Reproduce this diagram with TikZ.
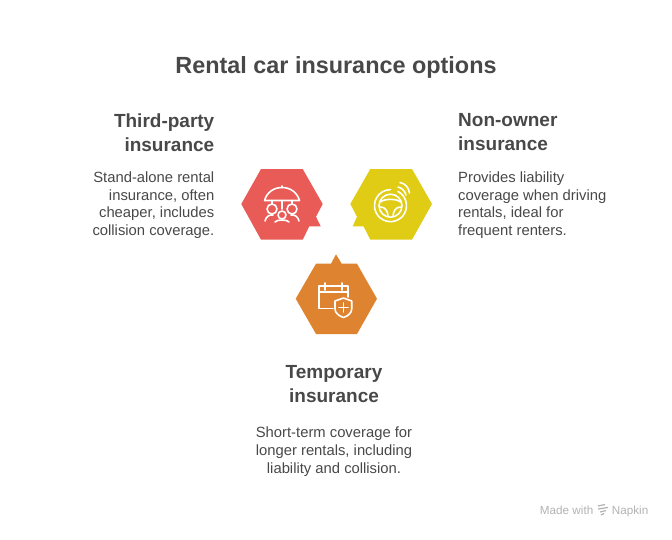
\documentclass[tikz,border=0pt]{standalone}
\usepackage{fontspec}
\setmainfont{Liberation Sans}
\definecolor{inkgray}{HTML}{484848}
\definecolor{hexred}{HTML}{E85B56}
\definecolor{hexyellow}{HTML}{E0CC14}
\definecolor{hexorange}{HTML}{DE8431}
\tikzset{
  headtext/.style={inkgray, inner sep=0, font=\fontsize{19}{24}\selectfont\bfseries},
  bodytext/.style={inkgray, inner sep=0, font=\fontsize{14.8}{17.7}\selectfont},
  footertext/.style={gray!60, inner sep=0, font=\fontsize{11.7}{14}\selectfont},
  iconline/.style={draw=white, line width=1.6, line cap=round, line join=round},
}
\begin{document}
\begin{tikzpicture}[x=1pt, y=-1pt]
\useasboundingbox (0,0) rectangle (672,539);

% hexagons
\fill [hexred] (241.3,204) -- (261,169) -- (302.7,169) -- (322.7,204) -- (316,216.7) -- (320.7,226.3) -- (309.3,226.3) -- (302.7,239.7) -- (261,239.7) -- cycle;
\fill [hexyellow] (350.3,204) -- (370.3,169) -- (412,169) -- (432,204) -- (412,239.7) -- (370.3,239.7) -- (363.5,226.3) -- (352.7,226.3) -- (357,216.7) -- cycle;
\fill [hexorange] (295.7,298.7) -- (316,263.7) -- (331,263.7) -- (336,254.3) -- (341.7,263.7) -- (357,263.7) -- (377,298.7) -- (357,334) -- (316,334) -- cycle;

% umbrella icon
\draw [iconline] (264.5,200.5) .. controls (267,192) and (274,187.5) .. (282,187.5) .. controls (290,187.5) and (297,192) .. (299.5,200.5) -- cycle;
\draw [iconline] (282,186) -- (282,187.5) (282,200.5) -- (282,209) (272,200.5) -- (272,204) (292,200.5) -- (292,204);
\draw [iconline] (272,209) circle (5) (292,209) circle (5) (282,215) circle (4);
\draw [iconline] (265,221) .. controls (266,216) and (270,214.5) .. (273,215) (299,221) .. controls (298,216) and (294,214.5) .. (291,215) (275,222) .. controls (276,220.5) and (279,220) .. (282,220) .. controls (285,220) and (288,220.5) .. (289,222);

% steering wheel icon
\draw [iconline] (398,191.5) arc (-62:270:16);
\draw [iconline] (390.5,205.7) circle (11.5);
\draw [iconline] (380.5,202) .. controls (384,198.5) and (397,198.5) .. (400.5,202);
\draw [iconline] (380.5,207) .. controls (385,207) and (388,211) .. (388,216.5) (400.5,207) .. controls (396,207) and (393,211) .. (393,216.5);
\draw [iconline] (398,187) .. controls (402,188) and (405,191) .. (406,195) (400,182.5) .. controls (405,183.5) and (408.5,187) .. (409.5,193);

% calendar icon
\draw [iconline] (333,308.5) -- (319,308.5) -- (319,286) -- (347.7,286) -- (347.7,297);
\draw [iconline] (319,292) -- (347.7,292) (325,283) -- (325,290) (342,283) -- (342,290);
\draw [iconline] (335,301) -- (343.5,298) -- (351.7,301) -- (351.7,309) .. controls (351.7,313) and (348,316) .. (343.5,317.5) .. controls (339,316) and (335,313) .. (335,309) -- cycle;
\draw [iconline] (343.5,303) -- (343.5,312) (339,307.5) -- (348,307.5);

% labels
\node [inkgray, font=\fontsize{23.4}{28}\selectfont\bfseries] (titletext) at (336,67) {Rental car insurance options};
\node [headtext, align=right, anchor=north east] (thirdhead) at (214.5,113.5) {Third-party\\insurance};
\node [bodytext, align=right, anchor=north east] (thirdbody) at (214.5,171.5) {Stand-alone rental\\insurance, often\\cheaper, includes\\collision coverage.};
\node [headtext, align=left, anchor=north west] (ownerhead) at (458,113.5) {Non-owner\\insurance};
\node [bodytext, align=left, anchor=north west] (ownerbody) at (458,171.5) {Provides liability\\coverage when driving\\rentals, ideal for\\frequent renters.};
\node [headtext, align=center, anchor=north] (temphead) at (334,365.5) {Temporary\\insurance};
\node [bodytext, align=center, anchor=north] (tempbody) at (334,427) {Short-term coverage for\\longer rentals, including\\liability and collision.};

% footer
\node [footertext, anchor=base east] (madewith) at (593.5,514) {Made with};
\node [footertext, anchor=base east] (napkin) at (648.5,514) {Napkin};
\draw [gray!60, line width=1.2] (598,506) -- (605,504.5) (598,509) -- (608,507.5) (600,512) -- (606,510.5) (601,515) -- (604,513.5);
\end{tikzpicture}
\end{document}
